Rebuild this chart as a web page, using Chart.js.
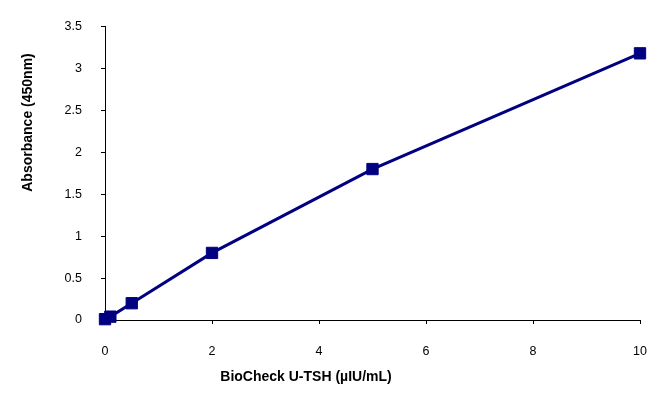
<!DOCTYPE html>
<html>
<head>
<meta charset="utf-8">
<script src="https://cdn.jsdelivr.net/npm/chart.js@4/dist/chart.umd.min.js"></script>
<style>
  html, body { margin: 0; padding: 0; background: #fff; }
  #wrap { width: 671px; height: 394px; }
</style>
</head>
<body>
<div id="wrap"><canvas id="c"></canvas></div>
<script>
// standard curve: concentration vs absorbance
const conc = [0, 0.1, 0.5, 2, 5, 10];
const absorb = [0.01, 0.04, 0.2, 0.8, 1.8, 3.18];
const xTitle = 'BioCheck U-TSH (\u00b5IU/mL)';
const yTitle = 'Absorbance (450nm)';
const NAVY = '#000080';
const FONT = 'Arial, "Liberation Sans", sans-serif';

// axis titles sit off-centre in the original, so draw them by hand
const titles = {
  id: 'titles',
  afterDraw(chart) {
    const ctx = chart.ctx, a = chart.chartArea;
    ctx.save();
    ctx.fillStyle = '#000';
    ctx.font = 'bold 14px ' + FONT;
    ctx.textAlign = 'center';
    ctx.textBaseline = 'middle';
    ctx.fillText(xTitle, a.left + 201, a.bottom + 57);
    ctx.translate(28, a.top + 96);
    ctx.rotate(-Math.PI / 2);
    ctx.fillText(yTitle, 0, 0);
    ctx.restore();
  }
};

new Chart(document.getElementById('c'), {
  type: 'scatter',
  data: {
    datasets: [{
      data: conc.map((x, i) => ({ x, y: absorb[i] })),
      showLine: true, clip: false,
      borderColor: NAVY, backgroundColor: NAVY, borderWidth: 3,
      pointStyle: 'rect', pointRadius: 8, pointHoverRadius: 8,
      pointBorderWidth: 1, pointHoverBorderWidth: 1
    }]
  },
  options: {
    responsive: true,
    maintainAspectRatio: false,
    animation: false,
    layout: { padding: { top: 24, right: 31, left: 0, bottom: 0 } },
    plugins: { legend: { display: false }, tooltip: { enabled: false } },
    scales: {
      x: {
        type: 'linear', min: 0, max: 10,
        grid: { drawOnChartArea: false, tickLength: 4, color: '#000' },
        border: { color: '#000', width: 1 },
        ticks: { stepSize: 2, color: '#000', padding: 20, font: { family: FONT, size: 12.5 } },
        afterFit: s => { s.height = 74; }
      },
      y: {
        min: 0, max: 3.5,
        grid: { drawOnChartArea: false, tickLength: 4, color: '#000' },
        border: { color: '#000', width: 1 },
        ticks: { stepSize: 0.5, color: '#000', padding: 19, font: { family: FONT, size: 12.5 },
                 callback: v => String(v) },
        afterFit: s => { s.width = 105; }
      }
    }
  },
  plugins: [titles]
});
</script>
</body>
</html>
